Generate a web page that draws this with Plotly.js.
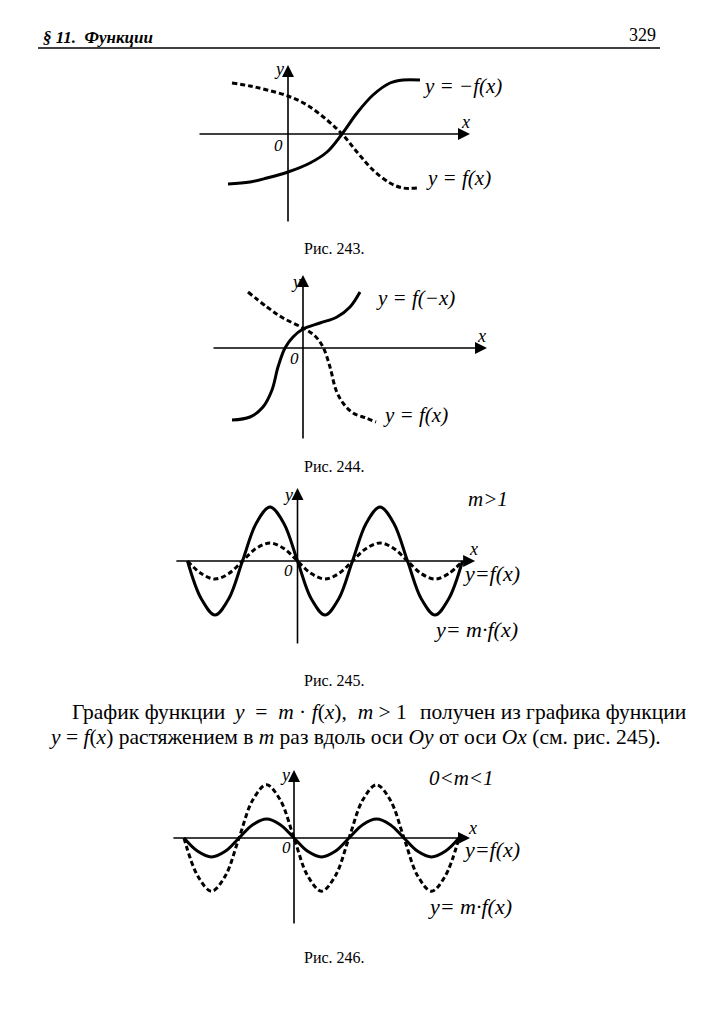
<!DOCTYPE html>
<html>
<head>
<meta charset="utf-8">
<script src="https://cdn.plot.ly/plotly-3.0.1.min.js"></script>
<style>html,body{margin:0;padding:0;background:#fff;}#chart{width:701px;height:1024px;}</style>
</head>
<body>
<div id="chart"></div>
<script>
// ---------- DATA ----------
// Рис. 243
const f243SolidX = [-3.0, -1.9, -1.05, 0, 1.1, 1.95, 2.7, 3.45, 4.25, 5.1, 5.75, 6.6];
const f243SolidY = [-2.5, -2.4, -2.2, -1.9, -1.45, -0.9, 0, 1.05, 1.95, 2.55, 2.7, 2.7];
const f243DashX  = [-2.8, -1.9, -1.05, 0, 0.95, 1.95, 2.7, 3.45, 4.25, 5.1, 5.75, 6.45];
const f243DashY  = [2.55, 2.4, 2.2, 1.9, 1.45, 0.7, 0, -0.9, -1.8, -2.45, -2.7, -2.7];
// Рис. 244
const f244SolidX = [-3.55, -2.65, -2.0, -1.55, -1.25, -0.9, -0.5, 0, 0.85, 1.7, 2.35, 2.85];
const f244SolidY = [-3.6, -3.45, -2.95, -2.1, -0.95, 0, 0.55, 0.95, 1.25, 1.55, 2.05, 2.8];
const f244DashX  = [-2.75, -1.8, -1.0, 0, 0.6, 1.0, 1.35, 1.65, 2.0, 2.5, 3.15, 3.65];
const f244DashY  = [2.8, 2.05, 1.5, 1.0, 0.6, 0.05, -0.95, -2.1, -2.75, -3.25, -3.5, -3.7];
// Рис. 245 / 246 (x in half-periods)
const waveX = [-2, -1.75, -1.5, -1.25, -1, -0.75, -0.5, -0.25, 0, 0.25, 0.5, 0.75, 1, 1.25, 1.5, 1.75, 2, 2.25, 2.5, 2.75, 3];
const f245MF = [0, -2.1, -3, -2.1, 0, 2.1, 3, 2.1, 0, -2.1, -3, -2.1, 0, 2.1, 3, 2.1, 0, -2.1, -3, -2.1, 0];
const f245F  = [0, -0.7, -1, -0.7, 0, 0.7, 1, 0.7, 0, -0.7, -1, -0.7, 0, 0.7, 1, 0.7, 0, -0.7, -1, -0.7, 0];
const f246F  = [0, -2.0, -2.8, -2.0, 0, 2.0, 2.8, 2.0, 0, -2.0, -2.8, -2.0, 0, 2.0, 2.8, 2.0, 0, -2.0, -2.8, -2.0, 0];
const f246MF = [0, -0.7, -1, -0.7, 0, 0.7, 1, 0.7, 0, -0.7, -1, -0.7, 0, 0.7, 1, 0.7, 0, -0.7, -1, -0.7, 0];

// texts
const headerLeft = '<b><i>§ 11.  Функции</i></b>';
const headerRight = '329';
const captions = ['Рис. 243.', 'Рис. 244.', 'Рис. 245.', 'Рис. 246.'];
const para1a = 'График функции';
const para1m = '<i>y</i>&nbsp; = &nbsp;<i>m</i> · <i>f</i>(<i>x</i>), &nbsp;<i>m</i> &gt; 1';
const para1b = 'получен из графика функции';
const para2 = '<i>y</i> = <i>f</i>(<i>x</i>) растяжением в <i>m</i> раз вдоль оси <i>Oy</i> от оси <i>Ox</i> (см. рис. 245).';

// ---------- LAYOUT HELPERS ----------
const W = 701, H = 1024;
const P = x => x / W;
const Q = y => 1 - y / H;
const SERIF = 'Liberation Serif, Times New Roman, serif';

// figure frames: origin px, scale px/unit, box px, axis extents
const figs = [
  {ox: 288, oy: 134, sx: 20, sy: 20, box: [190, 55, 485, 232], xa: [-4.5, 9.1], ya: [-4.45, 3.45]},
  {ox: 303, oy: 348, sx: 20, sy: 20, box: [200, 265, 495, 450], xa: [-4.55, 9.2], ya: [-4.6, 3.65]},
  {ox: 297.5, oy: 561, sx: 55, sy: 18, box: [165, 480, 485, 655], xa: [-2.23, 3.23], ya: [-4.67, 4.06]},
  {ox: 294, oy: 838, sx: 55, sy: 19, box: [160, 760, 480, 935], xa: [-2.22, 3.2], ya: [-4.58, 3.58]}
];

const layout = {
  width: W, height: H,
  margin: {l: 0, r: 0, t: 0, b: 0},
  paper_bgcolor: '#fff', plot_bgcolor: 'rgba(0,0,0,0)',
  showlegend: false,
  annotations: [], shapes: []
};

figs.forEach((f, i) => {
  const n = i === 0 ? '' : String(i + 1);
  const [x0, y0, x1, y1] = f.box;
  const hidden = {visible: false, showgrid: false, zeroline: false, fixedrange: true};
  layout['xaxis' + n] = Object.assign({}, hidden, {
    domain: [P(x0), P(x1)],
    range: [(x0 - f.ox) / f.sx, (x1 - f.ox) / f.sx],
    anchor: 'y' + n
  });
  layout['yaxis' + n] = Object.assign({}, hidden, {
    domain: [Q(y1), Q(y0)],
    range: [-(y1 - f.oy) / f.sy, (f.oy - y0) / f.sy],
    anchor: 'x' + n
  });
  const xr = 'x' + n, yr = 'y' + n;
  layout.annotations.push({
    xref: xr, yref: yr, axref: xr, ayref: yr,
    x: f.xa[1], y: 0, ax: f.xa[0], ay: 0, text: '',
    showarrow: true, arrowhead: 2, arrowsize: 1.5, arrowwidth: 1.6, arrowcolor: '#000', standoff: 0
  });
  layout.annotations.push({
    xref: xr, yref: yr, axref: xr, ayref: yr,
    x: 0, y: f.ya[1], ax: 0, ay: f.ya[0], text: '',
    showarrow: true, arrowhead: 2, arrowsize: 1.5, arrowwidth: 1.6, arrowcolor: '#000', standoff: 0
  });
});

const traces = [];
function addLine(xs, ys, axisN, dashed) {
  traces.push({
    type: 'scatter', mode: 'lines', x: xs, y: ys,
    xaxis: 'x' + axisN, yaxis: 'y' + axisN,
    line: {color: '#000', width: 3, shape: 'spline', smoothing: 1, dash: dashed ? '5px,3px' : 'solid'},
    hoverinfo: 'skip'
  });
}
addLine(f243DashX, f243DashY, '', true);
addLine(f243SolidX, f243SolidY, '', false);
addLine(f244DashX, f244DashY, '2', true);
addLine(f244SolidX, f244SolidY, '2', false);
addLine(waveX, f245F, '3', true);
addLine(waveX, f245MF, '3', false);
addLine(waveX, f246F, '4', true);
addLine(waveX, f246MF, '4', false);

function txt(text, px, py, size, anchor, extra) {
  layout.annotations.push(Object.assign({
    xref: 'paper', yref: 'paper', x: P(px), y: Q(py), text: text,
    showarrow: false, xanchor: anchor || 'left', yanchor: 'middle',
    font: {family: SERIF, size: size, color: '#000'}
  }, extra || {}));
}

// header
txt(headerLeft, 41, 37, 17, 'left');
txt(headerRight, 658, 35, 18, 'right');
layout.shapes.push({type: 'line', xref: 'paper', yref: 'paper', x0: P(38), x1: P(660), y0: Q(48), y1: Q(48), line: {color: '#000', width: 1.6}});

// fig 243
txt('<i>y</i>', 279, 69, 18, 'center');
txt('<i>x</i>', 465, 122, 18, 'center');
txt('<i>0</i>', 278, 145, 17, 'center');
txt('<i>y = −f(x)</i>', 421, 86, 21, 'left');
txt('<i>y = f(x)</i>', 424, 178, 21, 'left');
// fig 244
txt('<i>y</i>', 296, 282, 18, 'center');
txt('<i>x</i>', 481, 336, 18, 'center');
txt('<i>0</i>', 294, 358, 17, 'center');
txt('<i>y = f(−x)</i>', 374, 298, 21, 'left');
txt('<i>y = f(x)</i>', 381, 415, 21, 'left');
// fig 245
txt('<i>y</i>', 288, 495, 18, 'center');
txt('<i>x</i>', 473, 549, 18, 'center');
txt('<i>0</i>', 288, 570, 17, 'center');
txt('<i>m&gt;1</i>', 466, 499, 21, 'left');
txt('<i>y=f(x)</i>', 461, 573, 22, 'left');
txt('<i>y= m·f(x)</i>', 432, 629, 22, 'left');
// fig 246
txt('<i>y</i>', 285, 775, 18, 'center');
txt('<i>x</i>', 472, 828, 18, 'center');
txt('<i>0</i>', 286, 847, 17, 'center');
txt('<i>0&lt;m&lt;1</i>', 427, 778, 21, 'left');
txt('<i>y=f(x)</i>', 461, 849, 22, 'left');
txt('<i>y= m·f(x)</i>', 426, 906, 22, 'left');

// captions
txt(captions[0], 334, 248, 16, 'center');
txt(captions[1], 334, 466, 16, 'center');
txt(captions[2], 334, 680, 16, 'center');
txt(captions[3], 334, 957, 16, 'center');

// paragraph (justified first line built from pieces)
txt(para1a, 70, 712, 21.5, 'left');
txt(para1m, 231, 712, 21.5, 'left');
txt(para1b, 688, 712, 21.5, 'right');
txt(para2, 47, 737, 21.5, 'left');

Plotly.newPlot('chart', traces, layout, {staticPlot: true, displayModeBar: false});
</script>
</body>
</html>
